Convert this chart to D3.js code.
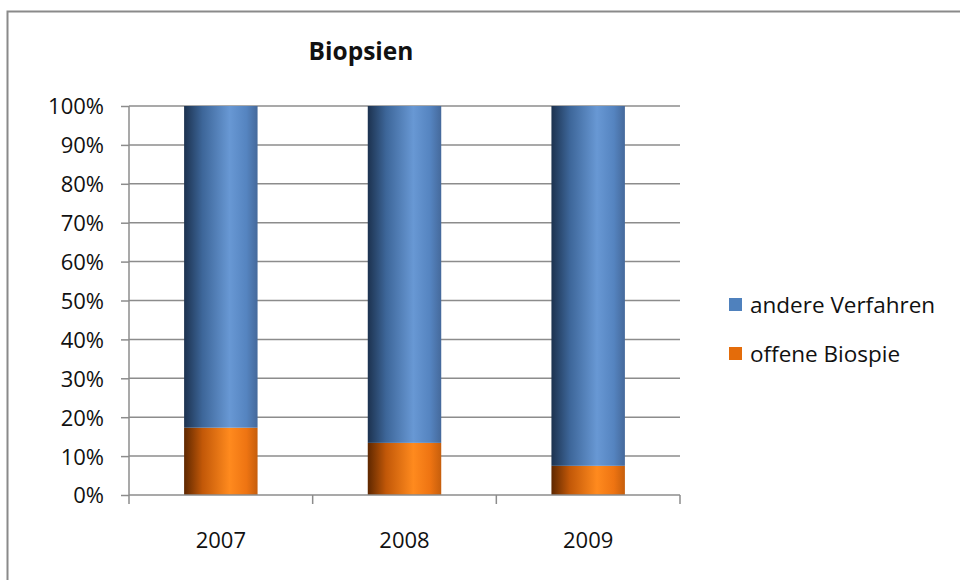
<!DOCTYPE html>
<html>
<head>
<meta charset="utf-8">
<script src="https://cdn.jsdelivr.net/npm/d3@7"></script>
<style>
  body { margin: 0; background: #fff; }
  text { font-family: "Open Sans", sans-serif; fill: #111; }
</style>
</head>
<body>
<div id="chart"></div>
<script>
// Data (shares in %)
const years = ["2007", "2008", "2009"];
const offeneBiopsie = [17.3, 13.4, 7.5];
const andereVerfahren = [82.7, 86.6, 92.5];
const seriesNames = ["andere Verfahren", "offene Biospie"];
const yTicks = [0, 10, 20, 30, 40, 50, 60, 70, 80, 90, 100];

const width = 960;
const height = 580;
const margin = { top: 106, left: 129, bottom: 85 };
const plotRight = 680;

const svg = d3.select("#chart")
  .append("svg")
  .attr("width", width)
  .attr("height", height);

// Gradients for the bars
const defs = svg.append("defs");
function addGradient(id, stops) {
  const g = defs.append("linearGradient")
    .attr("id", id)
    .attr("x1", "0%").attr("x2", "100%")
    .attr("y1", "0%").attr("y2", "0%");
  stops.forEach(s => g.append("stop").attr("offset", s[0]).attr("stop-color", s[1]));
}
addGradient("blueGrad", [
  ["0%", "#1c324f"], ["25%", "#3d6699"], ["62%", "#6898d4"], ["85%", "#5584c0"], ["100%", "#45699b"]
]);
addGradient("orangeGrad", [
  ["0%", "#5e2700"], ["25%", "#c25808"], ["62%", "#ff8a1e"], ["85%", "#ee7412"], ["100%", "#c65e0c"]
]);

// Outer frame (only left and top visible)
svg.append("path")
  .attr("d", `M7.5,${height} V11.5 H${width}`)
  .attr("fill", "none")
  .attr("stroke", "#8a8a8a")
  .attr("stroke-width", 2);

const x = d3.scaleBand()
  .domain(years)
  .range([margin.left, plotRight])
  .paddingInner(0.6)
  .paddingOuter(0.3);

const y = d3.scaleLinear()
  .domain([0, 100])
  .range([height - margin.bottom, margin.top]);

// Gridlines
svg.append("g")
  .selectAll("line")
  .data(yTicks.filter(d => d > 0))
  .join("line")
  .attr("x1", margin.left)
  .attr("x2", plotRight)
  .attr("y1", d => y(d))
  .attr("y2", d => y(d))
  .attr("stroke", "#8c8c8c")
  .attr("stroke-width", 1.5);

// Stacked bars
const stackData = years.map((yr, i) => ({
  year: yr,
  "offene Biospie": offeneBiopsie[i],
  "andere Verfahren": andereVerfahren[i]
}));
const stack = d3.stack().keys(["offene Biospie", "andere Verfahren"]);
const layers = stack(stackData);
const fills = { "offene Biospie": "url(#orangeGrad)", "andere Verfahren": "url(#blueGrad)" };

svg.append("g")
  .selectAll("g")
  .data(layers)
  .join("g")
  .attr("fill", d => fills[d.key])
  .selectAll("rect")
  .data(d => d)
  .join("rect")
  .attr("x", d => x(d.data.year))
  .attr("width", x.bandwidth())
  .attr("y", d => y(d[1]))
  .attr("height", d => y(d[0]) - y(d[1]));

// Y axis
const yAxis = svg.append("g")
  .attr("transform", `translate(${margin.left},0)`)
  .call(d3.axisLeft(y).tickValues(yTicks).tickFormat(d => d + "%").tickSize(8).tickPadding(17));
yAxis.select(".domain").attr("stroke", "#8c8c8c").attr("stroke-width", 1.5).attr("d", `M0,${y(100)}V${y(0)}`);
yAxis.selectAll(".tick line").attr("stroke", "#8c8c8c").attr("stroke-width", 1.5);
yAxis.selectAll(".tick text").attr("font-size", 22).attr("fill", "#111").attr("dy", "0.36em");

// X axis (ticks at category boundaries)
const xAxisG = svg.append("g")
  .attr("transform", `translate(0,${y(0)})`);
xAxisG.append("line")
  .attr("x1", margin.left).attr("x2", plotRight)
  .attr("stroke", "#8c8c8c").attr("stroke-width", 1.5);
const step = x.step();
const boundaries = [margin.left].concat(years.map(yr => x(yr) + x.bandwidth() / 2 + step / 2));
xAxisG.selectAll(".bt")
  .data(boundaries)
  .join("line")
  .attr("x1", d => d).attr("x2", d => d)
  .attr("y1", 0).attr("y2", 9)
  .attr("stroke", "#8c8c8c").attr("stroke-width", 1.5);
xAxisG.selectAll("text")
  .data(years)
  .join("text")
  .attr("x", d => x(d) + x.bandwidth() / 2)
  .attr("y", 53)
  .attr("text-anchor", "middle")
  .attr("font-size", 22)
  .text(d => d);

// Title
svg.append("text")
  .attr("x", 361)
  .attr("y", 60)
  .attr("text-anchor", "middle")
  .attr("font-size", 24.5)
  .attr("font-weight", "bold")
  .text("Biopsien");

// Legend
const legendColors = ["#4f81bd", "#e46c0a"];
const legend = svg.append("g").attr("transform", "translate(729,298)");
const item = legend.selectAll("g")
  .data(seriesNames)
  .join("g")
  .attr("transform", (d, i) => `translate(0,${i * 49})`);
item.append("rect")
  .attr("width", 13).attr("height", 13)
  .attr("fill", (d, i) => legendColors[i]);
item.append("text")
  .attr("x", 21)
  .attr("y", 15)
  .attr("font-size", 22.5)
  .text(d => d);
</script>
</body>
</html>
